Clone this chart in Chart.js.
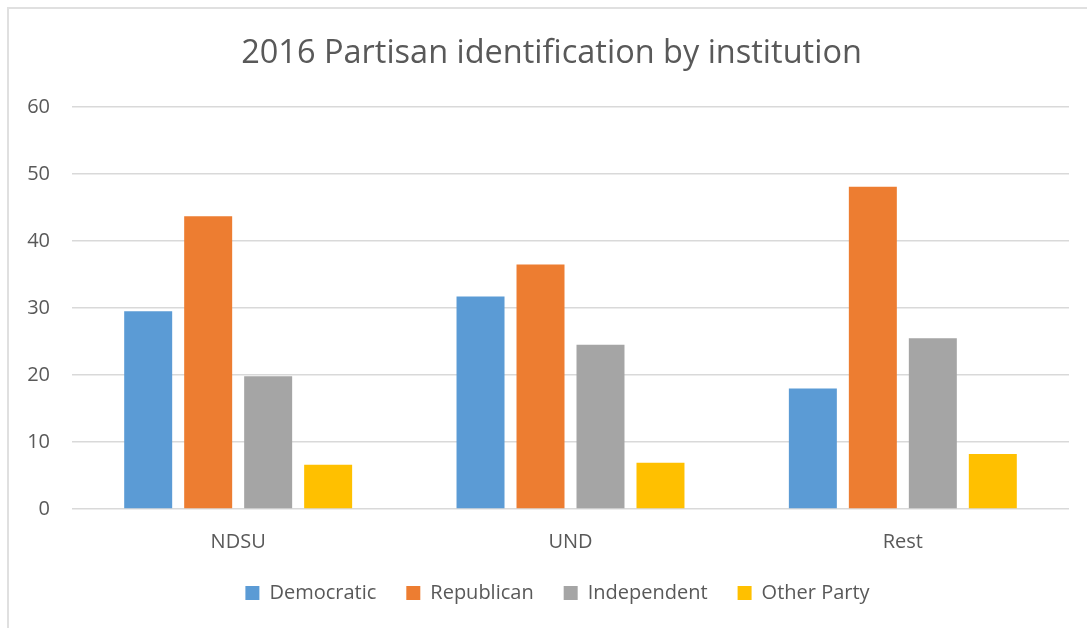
<!DOCTYPE html>
<html>
<head>
<meta charset="utf-8">
<script src="https://cdn.jsdelivr.net/npm/chart.js"></script>
<style>
  html, body { margin: 0; padding: 0; background: #fff; overflow: hidden; }
  #wrap { position: relative; width: 1087px; height: 628px; overflow: hidden; }
  #frame { position: absolute; left: 7px; top: 7px; width: 1100px; height: 640px; border: 2px solid #e0e0e0; pointer-events: none; }
</style>
</head>
<body>
<div id="wrap">
  <canvas id="barChart" width="1087" height="628"></canvas>
  <div id="frame"></div>
</div>
<script>
const institutions = ['NDSU', 'UND', 'Rest'];
const democratic = [29.5, 31.7, 18.0];
const republican = [43.7, 36.5, 48.1];
const independent = [19.8, 24.5, 25.5];
const otherParty = [6.6, 6.9, 8.2];
const yTicks = [0, 10, 20, 30, 40, 50, 60];

const fontFamily = '"Open Sans", sans-serif';
const textColor = '#595959';

// title and legend sit a little right of the canvas centre in the original
const nudgeBoxes = {
    id: 'nudgeBoxes',
    afterLayout(chart) {
        chart.titleBlock.left += 12;
        chart.titleBlock.right += 12;
        chart.legend.left += 18;
        chart.legend.right += 18;
    }
};

var barCtx = document.getElementById('barChart').getContext('2d');
var barChart = new Chart(barCtx, {
    type: 'bar',
    data: {
        labels: institutions,
        datasets: [
            { label: 'Democratic', data: democratic, backgroundColor: '#5B9BD5' },
            { label: 'Republican', data: republican, backgroundColor: '#ED7D31' },
            { label: 'Independent', data: independent, backgroundColor: '#A5A5A5' },
            { label: 'Other Party', data: otherParty, backgroundColor: '#FFC000' }
        ]
    },
    options: {
        responsive: false,
        animation: false,
        categoryPercentage: 0.722,
        barPercentage: 0.8,
        layout: { padding: { left: 10, right: 18, top: 0, bottom: 15 } },
        plugins: {
            title: {
                display: true,
                text: '2016 Partisan identification by institution',
                color: textColor,
                font: { family: fontFamily, size: 32.5, weight: 'normal' },
                padding: { top: 34, bottom: 34 }
            },
            legend: {
                position: 'bottom',
                labels: {
                    color: textColor,
                    font: { family: fontFamily, size: 20 },
                    boxWidth: 14,
                    boxHeight: 14,
                    padding: 30
                }
            },
            tooltip: { enabled: false }
        },
        scales: {
            x: {
                afterFit: function (axis) { axis.height = 44; },
                grid: { display: false },
                border: { display: false },
                ticks: { color: textColor, font: { family: fontFamily, size: 20 }, padding: 13 }
            },
            y: {
                min: 0,
                max: 60,
                afterBuildTicks: function (axis) {
                    axis.ticks = yTicks.map(v => ({ value: v }));
                },
                afterFit: function (axis) { axis.width = 62; },
                grid: { color: '#d9d9d9', lineWidth: 1.5, drawTicks: false },
                border: { display: false },
                ticks: { color: textColor, font: { family: fontFamily, size: 20 }, padding: 22 }
            }
        }
    },
    plugins: [nudgeBoxes]
});
</script>
</body>
</html>
